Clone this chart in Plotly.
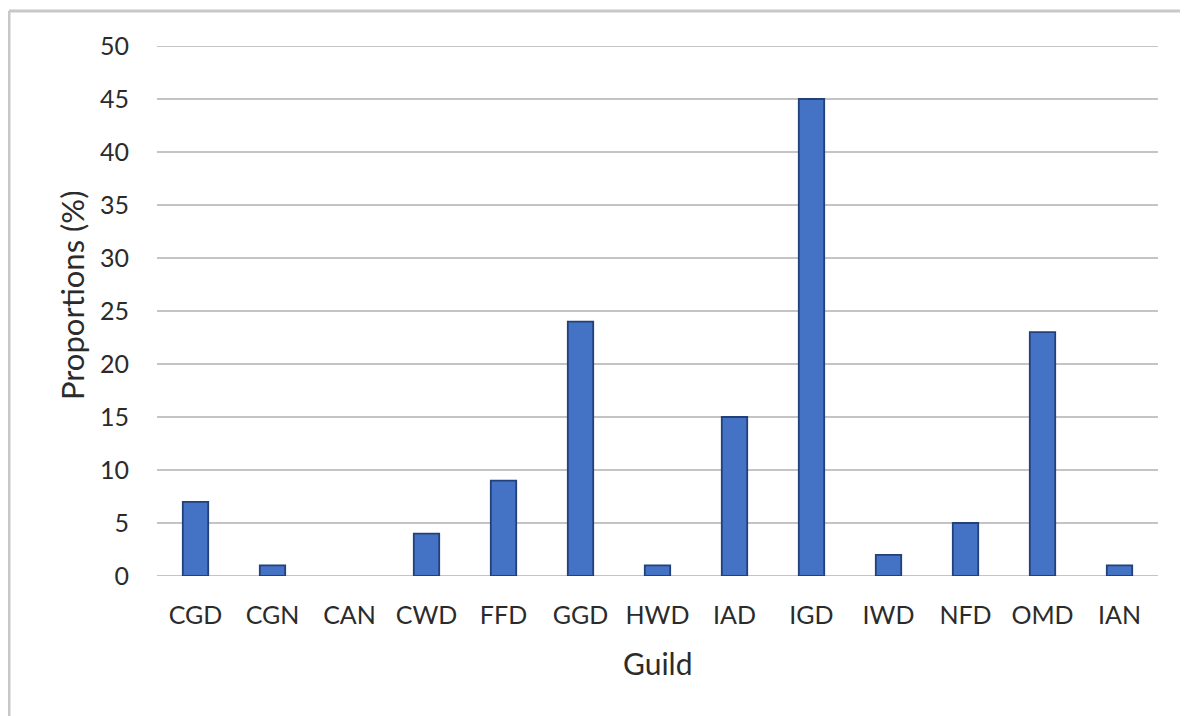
import plotly.graph_objects as go

guilds = ["CGD", "CGN", "CAN", "CWD", "FFD", "GGD", "HWD", "IAD", "IGD", "IWD", "NFD", "OMD", "IAN"]
proportions = [7, 1, 0, 4, 9, 24, 1, 15, 45, 2, 5, 23, 1]
y_ticks = [0, 5, 10, 15, 20, 25, 30, 35, 40, 45, 50]

FONT = "Lato, 'Open Sans', sans-serif"
TXT = "#2b2b2b"
GRID = "#c4c4c4"

# page has an 8px body margin, so the figure is shrunk by 8px and margins shifted
W, H = 1180, 708
L, R, T, B = 149, 30, 38, 140
PW, PH = W - L - R, H - T - B

fig = go.Figure(go.Bar(
    x=guilds, y=proportions,
    marker=dict(color="#4472C4",
                line=dict(color="#22407a", width=[0 if v == 0 else 1.8 for v in proportions])),
    width=0.33,
))

fig.update_layout(
    width=W, height=H,
    margin=dict(l=L, r=R, t=T, b=B),
    paper_bgcolor="white", plot_bgcolor="white",
    showlegend=False,
    font=dict(family=FONT, size=25, color=TXT),
    xaxis=dict(showgrid=False, showline=False, ticks="outside", ticklen=17,
               tickcolor="rgba(0,0,0,0)", tickfont=dict(size=25, color=TXT)),
    yaxis=dict(range=[y_ticks[0], y_ticks[-1]], tickvals=y_ticks, showgrid=True, gridcolor=GRID,
               gridwidth=2, zeroline=False, showline=False, ticks="outside",
               ticklen=22, tickcolor="rgba(0,0,0,0)", tickfont=dict(size=25, color=TXT)),
    shapes=[
        dict(type="line", xref="paper", yref="y", x0=0, x1=1, y0=y_ticks[0], y1=y_ticks[0],
             line=dict(color=GRID, width=2), layer="below"),
        dict(type="line", xref="paper", yref="y", x0=0, x1=1, y0=y_ticks[-1], y1=y_ticks[-1],
             line=dict(color=GRID, width=2), layer="below"),
        dict(type="line", xref="paper", yref="paper", x0=(1 - L) / PW, x1=(W - L + 5) / PW,
             y0=1 + 35 / PH, y1=1 + 35 / PH, line=dict(color="#c8c8c8", width=3)),
        dict(type="line", xref="paper", yref="paper", x0=(1 - L) / PW, x1=(1 - L) / PW,
             y0=1 + 35 / PH, y1=-(B + 5) / PH, line=dict(color="#c8c8c8", width=3)),
    ],
    annotations=[
        dict(text="Proportions (%)", xref="paper", yref="paper", x=-85 / PW, y=0.53,
             textangle=-90, showarrow=False, font=dict(size=31, color=TXT),
             xanchor="center", yanchor="middle"),
        dict(text="Guild", xref="paper", yref="paper", x=0.5, y=-87 / PH,
             showarrow=False, font=dict(size=30, color=TXT),
             xanchor="center", yanchor="middle"),
    ],
)

fig.write_html("out.html")
